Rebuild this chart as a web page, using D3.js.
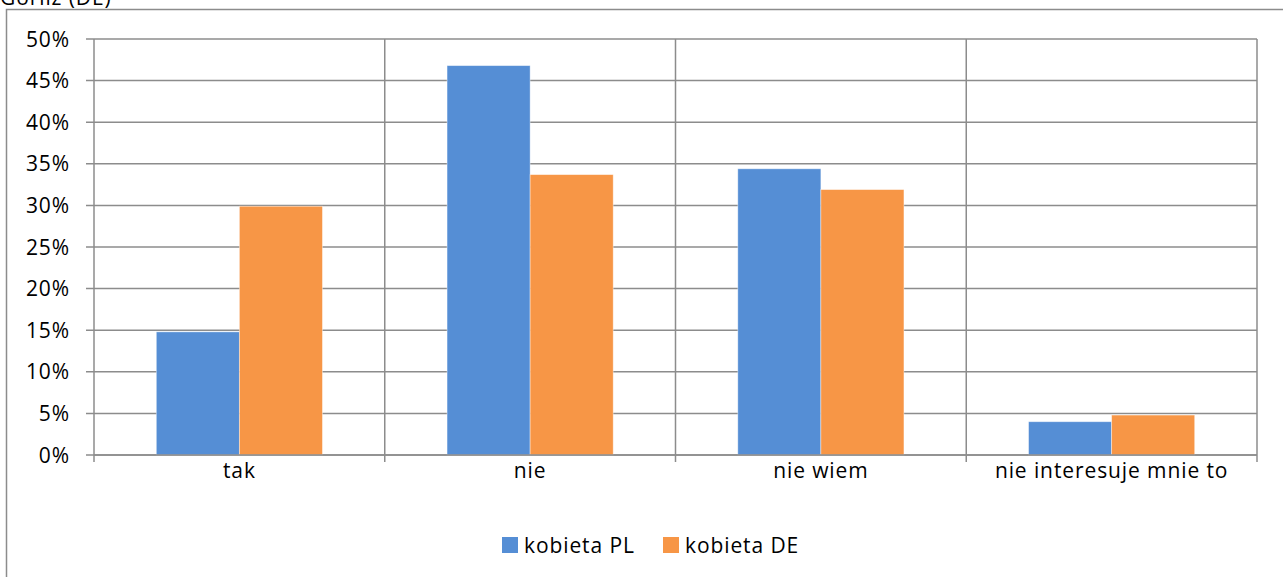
<html>
  <head>
    <script src="https://d3js.org/d3.v7.min.js"></script>
  </head>
  <body style="margin:0;background:#fff;">
    <div id="chart"></div>
    <script>
      // data
      const categories = ["tak", "nie", "nie wiem", "nie interesuje mnie to"];
      const seriesNames = ["kobieta PL", "kobieta DE"];
      const valuesPL = [14.8, 46.8, 34.4, 4.0];
      const valuesDE = [29.9, 33.7, 31.9, 4.8];
      const yTicks = [0, 5, 10, 15, 20, 25, 30, 35, 40, 45, 50];
      const titleText = "Gorilz (DE)";

      const width = 1283, height = 577;
      const margin = {top: 39, right: 26, bottom: 122, left: 94};
      const colors = ["#558ed5", "#f79646"];
      const gridColor = "#8c8c8c";
      const font = "'Open Sans', Lato, sans-serif";
      const fs = 21;
      const ls = 0.9;

      const svg = d3.create("svg").attr("width", width).attr("height", height);

      // outer frame
      svg.append("rect")
        .attr("x", 6.5).attr("y", 9.5)
        .attr("width", 1290).attr("height", 600)
        .attr("fill", "none").attr("stroke", gridColor).attr("stroke-width", 1.5);

      svg.append("text")
        .attr("x", 0).attr("y", 5)
        .attr("font-family", font).attr("font-size", fs)
        .attr("letter-spacing", ls)
        .text(titleText);

      const x = d3.scaleBand()
        .domain(categories)
        .range([margin.left, width - margin.right]);

      const xSub = d3.scaleBand()
        .domain(seriesNames)
        .range([0, x.bandwidth()])
        .paddingInner(0)
        .paddingOuter(0.75);

      const y = d3.scaleLinear()
        .domain([0, 50])
        .range([height - margin.bottom, margin.top]);

      // horizontal grid
      svg.append("g")
        .selectAll("line")
        .data(yTicks)
        .join("line")
        .attr("x1", margin.left - 8).attr("x2", width - margin.right)
        .attr("y1", d => y(d)).attr("y2", d => y(d))
        .attr("stroke", gridColor).attr("stroke-width", 1.5);

      // vertical grid at category boundaries
      const bounds = categories.map(c => x(c)).concat([x.range()[1]]);
      svg.append("g")
        .selectAll("line")
        .data(bounds)
        .join("line")
        .attr("x1", d => d).attr("x2", d => d)
        .attr("y1", y(50)).attr("y2", y(0) + 7)
        .attr("stroke", gridColor).attr("stroke-width", 1.5);

      // y axis labels
      svg.append("g")
        .selectAll("text")
        .data(yTicks)
        .join("text")
        .attr("x", margin.left - 24)
        .attr("y", d => y(d))
        .attr("dy", "0.36em")
        .attr("text-anchor", "end")
        .attr("font-family", font).attr("font-size", fs)
        .attr("letter-spacing", ls)
        .attr("fill", "#000")
        .text(d => d + "%");

      // bars
      const rows = categories.map((c, i) => ({cat: c, vals: [valuesPL[i], valuesDE[i]]}));
      svg.append("g")
        .selectAll("g")
        .data(rows)
        .join("g")
        .attr("transform", d => `translate(${x(d.cat)},0)`)
        .selectAll("rect")
        .data(d => d.vals.map((v, k) => ({key: seriesNames[k], value: v, k: k})))
        .join("rect")
        .attr("x", d => xSub(d.key))
        .attr("y", d => y(d.value))
        .attr("width", xSub.bandwidth())
        .attr("height", d => y(0) - y(d.value))
        .attr("fill", d => colors[d.k])
        .attr("stroke", "#fff").attr("stroke-opacity", 0.5).attr("stroke-width", 0.8);

      // redraw x axis line over bars
      svg.append("line")
        .attr("x1", margin.left).attr("x2", width - margin.right)
        .attr("y1", y(0)).attr("y2", y(0))
        .attr("stroke", gridColor).attr("stroke-width", 1.5);

      // category labels
      svg.append("g")
        .selectAll("text")
        .data(categories)
        .join("text")
        .attr("x", d => x(d) + x.bandwidth() / 2)
        .attr("y", y(0) + 23)
        .attr("text-anchor", "middle")
        .attr("font-family", font).attr("font-size", fs)
        .attr("letter-spacing", ls)
        .text(d => d);

      // legend
      const legendX = [502, 663];
      const legend = svg.append("g")
        .selectAll("g")
        .data(seriesNames)
        .join("g")
        .attr("transform", (d, i) => `translate(${legendX[i]},537)`);
      legend.append("rect")
        .attr("width", 16).attr("height", 16)
        .attr("fill", (d, i) => colors[i]);
      legend.append("text")
        .attr("x", 22).attr("y", 16)
        .attr("font-family", font).attr("font-size", fs)
        .attr("letter-spacing", ls)
        .text(d => d);

      document.getElementById("chart").appendChild(svg.node());
    </script>
  </body>
</html>
